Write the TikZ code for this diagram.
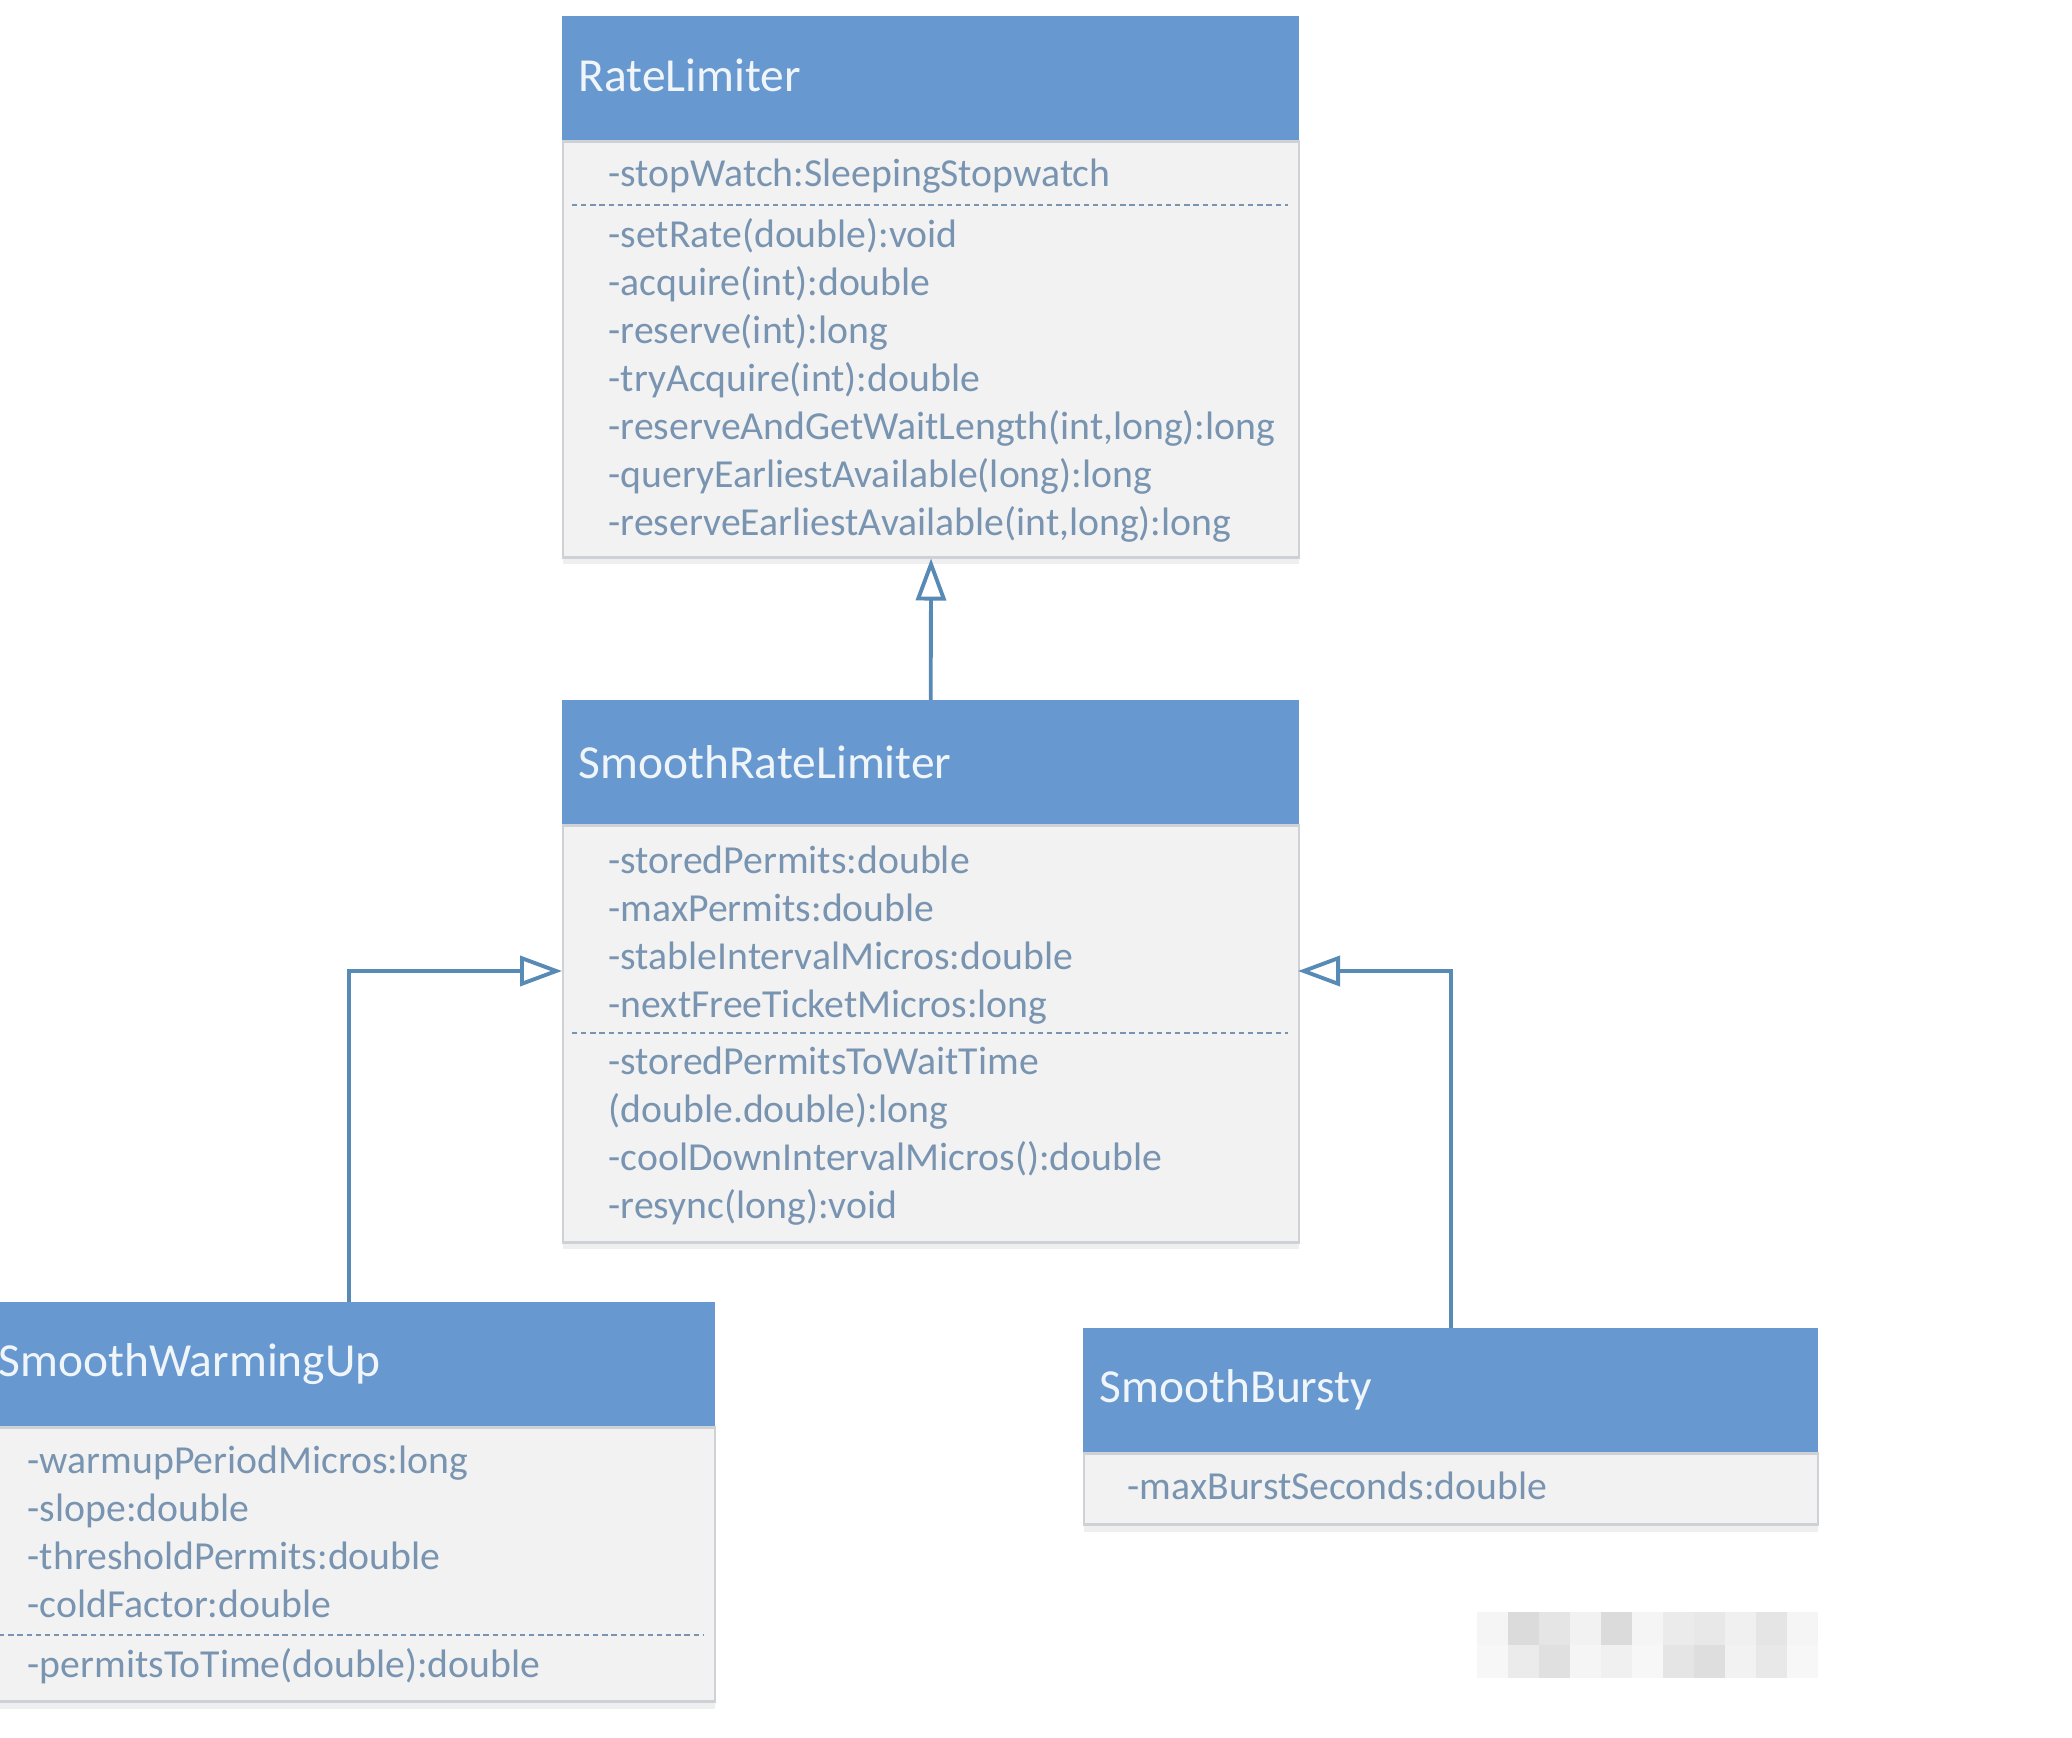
\documentclass[tikz,border=0pt]{standalone}
\usepackage{fontspec}
\setmainfont{Carlito}
\usetikzlibrary{arrows.meta,shadows}

\definecolor{headblue}{RGB}{103,152,207}
\definecolor{bodygray}{RGB}{242,242,242}
\definecolor{framegray}{RGB}{206,209,214}
\definecolor{membertext}{RGB}{120,148,177}
\definecolor{linkblue}{RGB}{88,138,182}

\tikzset{
  headbox/.style={rectangle, anchor=north west, fill=headblue, draw=headblue,
    minimum height=1.23cm, inner sep=0pt},
  bodybox/.style={rectangle, anchor=north west, fill=bodygray, draw=framegray,
    line width=0.6pt, inner sep=0pt,
    drop shadow={shadow xshift=0pt, shadow yshift=-2pt, opacity=0.12}},
  title/.style={anchor=west, text=white!90!headblue, inner sep=0pt,
    font=\fontsize{13.5}{16}\selectfont},
  member/.style={anchor=west, text=membertext, inner sep=0pt,
    text height=8pt, text depth=2.5pt, font=\fontsize{11.3}{13}\selectfont},
  sep/.style={draw=membertext, dash pattern=on 1.5pt off 1.1pt, line width=0.8pt},
  inherit/.style={draw=linkblue, line width=1.1pt,
    -{Triangle[open, length=0.42cm, width=0.3cm, fill=white]}},
}

\begin{document}
\begin{tikzpicture}

  \clip (0,0) rectangle (20.72,-17.38);
  \fill[white] (0,0) rectangle (20.72,-17.38);

  % RateLimiter
  \node[headbox, minimum width=7.36cm] (rlHead) at (5.62,-0.16) {};
  \node[bodybox, minimum width=7.36cm, minimum height=4.16cm] (rlBody) at (rlHead.south west) {};
  \node[title] (rlTitle) at ([xshift=0.16cm,yshift=0.03cm]rlHead.west) {RateLimiter};
  \node[member] (rlAttr) at (6.08,-1.77) {-stopWatch:SleepingStopwatch};
  \draw[sep] (5.72,-2.05) -- (12.88,-2.05);
  \foreach \t [count=\i] in {-setRate(double):void, -acquire(int):double,
      -reserve(int):long, -tryAcquire(int):double,
      {-reserveAndGetWaitLength(int,long):long},
      -queryEarliestAvailable(long):long,
      {-reserveEarliestAvailable(int,long):long}}
    \node[member] (rlOp\i) at (6.08,{-2.38-0.48*(\i-1)}) {\t};

  % SmoothRateLimiter
  \node[headbox, minimum width=7.36cm] (srlHead) at (5.62,-7.00) {};
  \node[bodybox, minimum width=7.36cm, minimum height=4.17cm] (srlBody) at (srlHead.south west) {};
  \node[title] (srlTitle) at ([xshift=0.16cm]srlHead.west) {SmoothRateLimiter};
  \foreach \t [count=\i] in {-storedPermits:double, -maxPermits:double,
      -stableIntervalMicros:double, -nextFreeTicketMicros:long}
    \node[member] (srlAttr\i) at (6.08,{-8.64-0.48*(\i-1)}) {\t};
  \draw[sep] (5.72,-10.33) -- (12.88,-10.33);
  \foreach \t [count=\i] in {-storedPermitsToWaitTime, (double.double):long,
      -coolDownIntervalMicros():double, -resync(long):void}
    \node[member] (srlOp\i) at (6.08,{-10.65-0.48*(\i-1)}) {\t};

  % SmoothWarmingUp
  \node[headbox, minimum width=7.32cm] (swHead) at (-0.18,-13.02) {};
  \node[bodybox, minimum width=7.32cm, minimum height=2.74cm] (swBody) at (swHead.south west) {};
  \node[title] (swTitle) at ([xshift=0.16cm]swHead.west) {SmoothWarmingUp};
  \foreach \t [count=\i] in {-warmupPeriodMicros:long, -slope:double,
      -thresholdPermits:double, -coldFactor:double}
    \node[member] (swAttr\i) at (0.27,{-14.64-0.48*(\i-1)}) {\t};
  \draw[sep] (-0.1,-16.35) -- (7.04,-16.35);
  \node[member] (swOp1) at (0.27,-16.68) {-permitsToTime(double):double};

  % SmoothBursty
  \node[headbox, minimum width=7.34cm] (sbHead) at (10.83,-13.28) {};
  \node[bodybox, minimum width=7.34cm, minimum height=0.71cm] (sbBody) at (sbHead.south west) {};
  \node[title] (sbTitle) at ([xshift=0.16cm]sbHead.west) {SmoothBursty};
  \node[member] (sbAttr1) at (11.27,-14.90) {-maxBurstSeconds:double};

  % generalisation links
  \coordinate (swTip) at (5.62,-9.71);
  \coordinate (sbTip) at (12.98,-9.71);
  \draw[inherit] (srlHead.north) -- (rlBody.south);
  \draw[inherit] (swHead.north) |- (swTip);
  \draw[inherit] (sbHead.north) |- (sbTip);

  % blurred mark
  \foreach \x/\a/\b in {0/4/3, 1/14/8, 2/10/12, 3/5/4, 4/14/6, 5/4/3,
      6/8/10, 7/9/13, 8/6/5, 9/10/9, 10/4/3}
  {
    \fill[black!\a] ({14.77+0.31*\x},-16.12) rectangle ++(0.31,-0.33);
    \fill[black!\b] ({14.77+0.31*\x},-16.45) rectangle ++(0.31,-0.33);
  }

\end{tikzpicture}
\end{document}
